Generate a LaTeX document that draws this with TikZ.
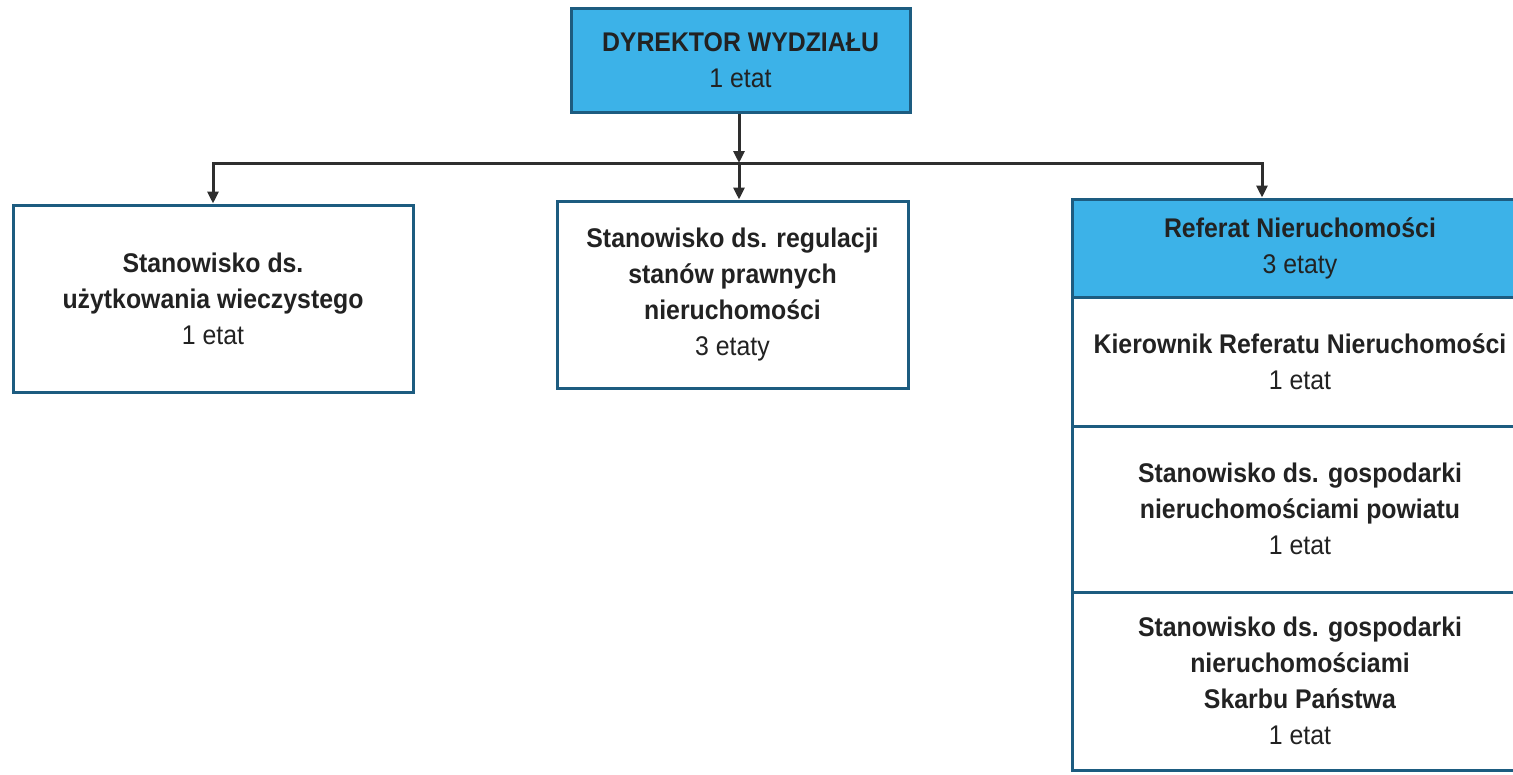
\documentclass[tikz,border=0pt]{standalone}
\usepackage{fontspec}
\setmainfont{Liberation Sans}[FakeStretch=0.92]
\usetikzlibrary{arrows.meta}
\definecolor{boxblue}{HTML}{3CB2E8}
\definecolor{boxline}{HTML}{1D5C80}
\definecolor{connc}{HTML}{2E2E2E}
\definecolor{txt}{HTML}{222222}
\begin{document}
\begin{tikzpicture}[x=1pt,y=-1pt,
  orgbox/.style={draw=boxline, line width=3pt, rectangle, inner sep=0pt, align=center,
    text=txt, font=\fontsize{27}{36}\selectfont},
  bluebox/.style={orgbox, fill=boxblue},
  colbox/.style={orgbox, minimum width=456pt},
  connector/.style={draw=connc, line width=3pt, -{Triangle[width=11pt,length=12pt]}}]
\useasboundingbox (0,0) rectangle (1513,774);
\clip (0,0) rectangle (1513,774);
\fill[white] (0,0) rectangle (1513,774);

\node[bluebox, minimum width=339pt, minimum height=104pt] (dir) at (740.5,60)
  {\textbf{DYREKTOR WYDZIAŁU}\\1 etat};

\node[orgbox, minimum width=400pt, minimum height=187pt] (left) at (213,298.5)
  {\textbf{Stanowisko ds.}\\\textbf{użytkowania wieczystego}\\1 etat};

\node[orgbox, minimum width=351pt, minimum height=187pt] (mid) at (732.5,294.5)
  {\textbf{Stanowisko ds. regulacji}\\\textbf{stanów prawnych}\\\textbf{nieruchomości}\\3 etaty};

\node[colbox, bluebox, minimum height=98pt] (ref) at (1300,248)
  {\textbf{Referat Nieruchomości}\\3 etaty};
\node[colbox, minimum height=129pt] (kier) at (1300,361.5)
  {\textbf{Kierownik Referatu Nieruchomości}\\1 etat};
\node[colbox, minimum height=166pt] (pow) at (1300,509)
  {\textbf{Stanowisko ds. gospodarki}\\\textbf{nieruchomościami powiatu}\\1 etat};
\node[colbox, minimum height=178pt] (skarb) at (1300,681)
  {\textbf{Stanowisko ds. gospodarki}\\\textbf{nieruchomościami}\\\textbf{Skarbu Państwa}\\1 etat};

\coordinate (j) at (739,163);
\coordinate (refin) at ([xshift=-38pt]ref.north);

\draw[connector] (j |- dir.south) -- (j);
\draw[connector] (j) -| (left.north);
\draw[connector] (j) -- (j |- mid.north);
\draw[connector] (j) -| (refin);
\end{tikzpicture}
\end{document}
